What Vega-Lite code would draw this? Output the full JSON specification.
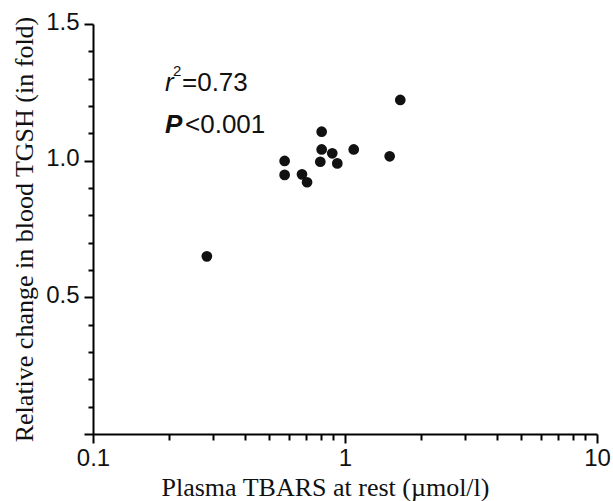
{
  "$schema": "https://vega.github.io/schema/vega-lite/v6.json",
  "width": 504,
  "height": 410,
  "autosize": {"type": "none"},
  "padding": {"left": 93, "top": 24, "right": 16, "bottom": 67},
  "background": "white",
  "config": {"view": {"stroke": null}, "axis": {"grid": false, "labelOverlap": false}},
  "data": {
    "values": [
      {"tbars": 0.283, "tgsh": 0.650},
      {"tbars": 1.657, "tgsh": 1.222},
      {"tbars": 0.808, "tgsh": 1.106},
      {"tbars": 0.576, "tgsh": 0.999},
      {"tbars": 0.576, "tgsh": 0.948},
      {"tbars": 0.675, "tgsh": 0.950},
      {"tbars": 0.707, "tgsh": 0.921},
      {"tbars": 0.798, "tgsh": 0.996},
      {"tbars": 0.808, "tgsh": 1.041},
      {"tbars": 0.890, "tgsh": 1.027},
      {"tbars": 0.932, "tgsh": 0.990},
      {"tbars": 1.083, "tgsh": 1.041},
      {"tbars": 1.504, "tgsh": 1.016}
    ]
  },
  "resolve": {"axis": {"x": "independent", "y": "independent"}},
  "layer": [
    {
      "mark": {"type": "point", "filled": true, "size": 0, "opacity": 0},
      "encoding": {
        "x": {
          "field": "tbars",
          "type": "quantitative",
          "scale": {"type": "log", "domain": [0.1, 10], "nice": false},
          "axis": {
            "orient": "bottom",
            "values": [0.2, 0.3, 0.4, 0.5, 0.6, 0.7, 0.8, 0.9, 2, 3, 4, 5, 6, 7, 8, 9],
            "title": null,
            "labels": false,
            "domain": false,
            "tickSize": 6,
            "tickColor": "#000000",
            "tickWidth": 2,
            "grid": false
          }
        },
        "y": {
          "field": "tgsh",
          "type": "quantitative",
          "scale": {"domain": [0, 1.5], "nice": false, "zero": true},
          "axis": {
            "orient": "left",
            "values": [0.1, 0.2, 0.3, 0.4, 0.6, 0.7, 0.8, 0.9, 1.1, 1.2, 1.3, 1.4],
            "title": null,
            "labels": false,
            "domain": false,
            "tickSize": 5,
            "tickColor": "#000000",
            "tickWidth": 2,
            "grid": false
          }
        }
      }
    },
    {
      "mark": {"type": "point", "filled": true, "size": 115, "color": "#111111", "opacity": 1},
      "encoding": {
        "x": {
          "field": "tbars",
          "type": "quantitative",
          "scale": {"type": "log", "domain": [0.1, 10], "nice": false},
          "axis": {
            "orient": "bottom",
            "values": [0.1, 1, 10],
            "title": "Plasma TBARS at rest (µmol/l)",
            "titleFont": "Liberation Serif",
            "titleFontSize": 26,
            "titleFontWeight": "normal",
            "titleColor": "#111111",
            "titleX": 232,
            "titleY": 61,
            "titleBaseline": "alphabetic",
            "titleAlign": "center",
            "labelExpr": "datum.value < 0.15 ? '0.1' : (datum.value < 5 ? '1' : '10')",
            "labelFont": "Liberation Sans",
            "labelFontSize": 24,
            "labelColor": "#111111",
            "labelFlush": false,
            "labelOverlap": false,
            "labelBound": false,
            "labelPadding": 3,
            "tickSize": 9,
            "tickColor": "#000000",
            "tickWidth": 2,
            "domainColor": "#000000",
            "domainWidth": 2,
            "grid": false
          }
        },
        "y": {
          "field": "tgsh",
          "type": "quantitative",
          "scale": {"domain": [0, 1.5], "nice": false, "zero": true},
          "axis": {
            "orient": "left",
            "values": [0, 0.5, 1, 1.5],
            "title": "Relative change in blood TGSH (in fold)",
            "titleFont": "Liberation Serif",
            "titleFontSize": 26,
            "titleFontWeight": "normal",
            "titleColor": "#111111",
            "titleX": -61,
            "titleY": 205,
            "titleBaseline": "alphabetic",
            "titleAlign": "center",
            "titleAngle": -90,
            "labelExpr": "datum.value < 0.01 ? '' : format(datum.value, '.1f')",
            "labelFont": "Liberation Sans",
            "labelFontSize": 24,
            "labelColor": "#111111",
            "labelOverlap": false,
            "labelBound": false,
            "labelFlush": false,
            "labelPadding": 5,
            "labelOffset": -2,
            "tickSize": 9,
            "tickColor": "#000000",
            "tickWidth": 2,
            "domainColor": "#000000",
            "domainWidth": 2,
            "grid": false
          }
        }
      }
    },
    {
      "data": {"values": [{}]},
      "mark": {"type": "text", "font": "Liberation Sans", "fontSize": 26, "fontStyle": "italic", "align": "left", "baseline": "alphabetic", "color": "#111111"},
      "encoding": {"x": {"datum": 0.193, "axis": null}, "y": {"datum": 1.2555, "axis": null}, "text": {"value": "r"}}
    },
    {
      "data": {"values": [{}]},
      "mark": {"type": "text", "font": "Liberation Sans", "fontSize": 15, "align": "left", "baseline": "alphabetic", "color": "#111111"},
      "encoding": {"x": {"datum": 0.2077, "axis": null}, "y": {"datum": 1.31, "axis": null}, "text": {"value": "2"}}
    },
    {
      "data": {"values": [{}]},
      "mark": {"type": "text", "font": "Liberation Sans", "fontSize": 26, "align": "left", "baseline": "alphabetic", "color": "#111111"},
      "encoding": {"x": {"datum": 0.2255, "axis": null}, "y": {"datum": 1.2555, "axis": null}, "text": {"value": "=0.73"}}
    },
    {
      "data": {"values": [{}]},
      "mark": {"type": "text", "font": "Liberation Sans", "fontSize": 26, "fontStyle": "italic", "fontWeight": "bold", "align": "left", "baseline": "alphabetic", "color": "#111111"},
      "encoding": {"x": {"datum": 0.193, "axis": null}, "y": {"datum": 1.102, "axis": null}, "text": {"value": "P"}}
    },
    {
      "data": {"values": [{}]},
      "mark": {"type": "text", "font": "Liberation Sans", "fontSize": 26, "align": "left", "baseline": "alphabetic", "color": "#111111"},
      "encoding": {"x": {"datum": 0.2318, "axis": null}, "y": {"datum": 1.102, "axis": null}, "text": {"value": "<0.001"}}
    }
  ]
}
